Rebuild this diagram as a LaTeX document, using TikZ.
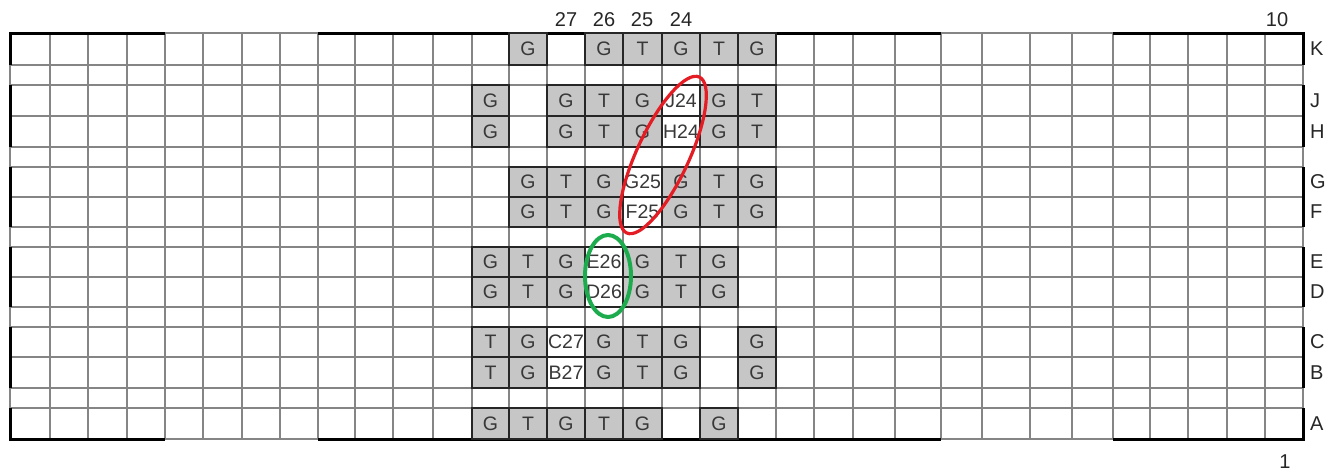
\documentclass[tikz,border=0pt]{standalone}
\usepackage{fontspec}
\setmainfont{Liberation Sans}
\usetikzlibrary{calc}
\definecolor{ringred}{RGB}{228,28,36}
\definecolor{ringgreen}{RGB}{28,172,78}
\tikzset{
  gridline/.style={black!48, line width=1.1pt},
  wall/.style={line width=3pt},
  seatbox/.style={draw=black!85, line width=1.6pt, fill=gray!45},
  seatfree/.style={seatbox, fill=white},
  seattext/.style={font=\fontsize{19.5}{19.5}\selectfont, text=black!78, inner sep=0pt},
  marktext/.style={font=\fontsize{20}{20}\selectfont, text=black!85, inner sep=0pt},
  ring/.style={line width=3.2pt},
}
\newcommand{\seat}[4][seatbox]{% one seat: style, row, column, text
  \pgfmathtruncatemacro{\nextcol}{#3+1}
  \draw[#1] (v#3 |- #2-t) rectangle node[seattext] (#2#3) {#4} (v\nextcol |- #2-b);
}

\begin{document}
\begin{tikzpicture}[x=1pt,y=-1pt]
  \useasboundingbox (0,0) rectangle (1337,472);
  % column edges and row edges
  \foreach \x [count=\k from 0] in {10,50,88,127,165,203,242,280,318,355,393,433,472,509,547,585,623,662,700,738,776,814,853,895,941,982,1030,1072,1113,1150,1188,1227,1265,1303}
    \coordinate (v\k) at (\x,0);
  \foreach \r/\t/\b in {K/33/65,J/85/116,H/116/147,G/167/197,F/197/227,E/247/277,D/277/307,C/327/357,B/357/388,A/408/439} {
    \coordinate (\r-t) at (0,\t);
    \coordinate (\r-b) at (0,\b);
  }
  % grid
  \foreach \k in {0,...,33} \draw[gridline] (v\k |- K-t) -- (v\k |- A-b);
  \foreach \r in {K,J,H,G,F,E,D,C,B,A}
    \draw[gridline] (v0 |- \r-t) -- (v33 |- \r-t) (v0 |- \r-b) -- (v33 |- \r-b);
  % walls
  \draw[wall] (v0|-K-b) -- (v0|-K-t) -- (v4|-K-t) (v8|-K-t) -- (v24|-K-t) (v28|-K-t) -- (v33|-K-t) -- (v33|-K-b);
  \draw[wall] (v0|-A-t) -- (v0|-A-b) -- (v4|-A-b) (v8|-A-b) -- (v24|-A-b) (v28|-A-b) -- (v33|-A-b) -- (v33|-A-t);
  \foreach \u/\l in {J/H,G/F,E/D,C/B} \draw[wall] (v0|-\u-t) -- (v0|-\l-b) (v33|-\u-t) -- (v33|-\l-b);
  % seats
  \foreach \c/\s in {13/G,15/G,16/T,17/G,18/T,19/G} \seat{K}{\c}{\s};
  \foreach \r in {J,H} {
    \foreach \c/\s in {12/G,14/G,15/T,16/G,18/G,19/T} \seat{\r}{\c}{\s};
    \seat[seatfree]{\r}{17}{\r24};
  }
  \foreach \r in {G,F} {
    \foreach \c/\s in {13/G,14/T,15/G,17/G,18/T,19/G} \seat{\r}{\c}{\s};
    \seat[seatfree]{\r}{16}{\r25};
  }
  \foreach \r in {E,D} {
    \foreach \c/\s in {12/G,13/T,14/G,16/G,17/T,18/G} \seat{\r}{\c}{\s};
    \seat[seatfree]{\r}{15}{\r26};
  }
  \foreach \r in {C,B} {
    \foreach \c/\s in {12/T,13/G,15/G,16/T,17/G,19/G} \seat{\r}{\c}{\s};
    \seat[seatfree]{\r}{14}{\r27};
  }
  \foreach \c/\s in {12/G,13/T,14/G,15/T,16/G,18/G} \seat{A}{\c}{\s};
  % labels
  \foreach \k/\n in {14/27,15/26,16/25,17/24}
    \node[marktext, anchor=base] (n\n) at ($(v\k|-K-t)+(19,-7)$) {\n};
  \node[marktext, anchor=base] (n10) at (1277,26) {10};
  \node[marktext, anchor=base] (n1) at (1285,468) {1};
  \foreach \r in {K,J,H,G,F,E,D,C,B,A}
    \node[marktext, anchor=west] (lab\r) at ($(v33|-\r-t)!0.5!(v33|-\r-b)+(7,0)$) {\r};
  % marks
  \draw[ring, ringred, rotate around={65:(663,155)}] (663,155) ellipse [x radius=86, y radius=26];
  \draw[ring, ringgreen, line width=4pt] (608,276) ellipse [x radius=23, y radius=41];
\end{tikzpicture}
\end{document}
